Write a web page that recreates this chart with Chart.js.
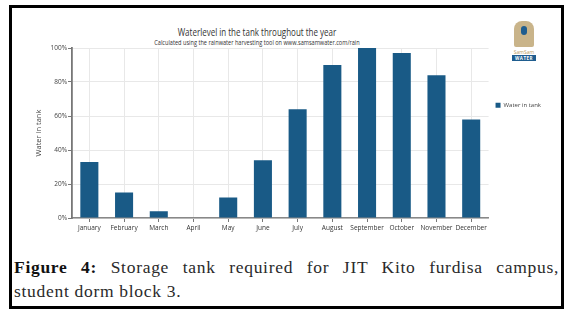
<!DOCTYPE html>
<html>
<head>
<meta charset="utf-8">
<script src="https://cdn.jsdelivr.net/npm/chart.js@4/dist/chart.umd.min.js"></script>
<style>
  body { margin: 0; background: #fff; }
  #frame {
    position: absolute; left: 9px; top: 5px; width: 549px; height: 298px;
    border: 3px solid #000; background: #fff;
  }
  .narrow { font-family: 'Open Sans', sans-serif; }
  #title {
    position: absolute; left: 0; width: 490px; top: 17px; text-align: center;
    font-size: 10px; color: #333; transform: scaleX(0.8);
  }
  #subtitle {
    position: absolute; left: 0; width: 490px; top: 30px; text-align: center;
    font-size: 6.5px; color: #333; transform: scaleX(0.86);
  }
  #logo { position: absolute; left: 500px; top: 13px; width: 24px; text-align: center; }
  #logo .fig { width: 20px; height: 26px; margin: 0 auto; background: #c9b48a; border-radius: 8px 8px 2px 2px; position: relative; }
  #logo .fig span { position: absolute; left: 7px; top: 5px; width: 6px; height: 9px; background: #1f5d8f; border-radius: 3px; }
  #logo .sam { font-size: 5px; color: #b89a62; margin-top: 2px; line-height: 6px; }
  #logo .water { font-size: 4.5px; color: #fff; background: #1f5d8f; font-weight: bold; line-height: 6px; letter-spacing: 0.5px; }
  #chartBox { position: absolute; left: 0px; top: 31px; width: 548px; height: 200px; }
  #caption {
    position: absolute; left: 2px; top: 247px; width: 545px;
    font-family: 'Liberation Serif', serif; font-size: 17.5px; line-height: 24px;
    letter-spacing: 0.7px; color: #2a2a2a;
  }
  #caption .l1 { text-align: justify; text-align-last: justify; }
  #caption b { color: #111; }
</style>
</head>
<body>
<div id="frame">
  <div id="title" class="narrow">Waterlevel in the tank throughout the year</div>
  <div id="subtitle" class="narrow">Calculated using the rainwater harvesting tool on www.samsamwater.com/rain</div>
  <div id="logo" class="narrow">
    <div class="fig"><span></span></div>
    <div class="sam">SamSam</div>
    <div class="water">WATER</div>
  </div>
  <div id="chartBox"><canvas id="tankChart"></canvas></div>
  <div id="caption">
    <div class="l1"><b>Figure 4:</b> Storage tank required for JIT Kito furdisa campus,</div>
    <div>student dorm block 3.</div>
  </div>
</div>
<script>
// Data
const months = ['January', 'February', 'March', 'April', 'May', 'June', 'July', 'August', 'September', 'October', 'November', 'December'];
const waterLevel = [33, 15, 4, 0, 12, 34, 64, 90, 100, 97, 84, 58];
const yTicks = [0, 20, 40, 60, 80, 100];

const barColor = '#195a86';
const fontFamily = "'Open Sans', sans-serif";

const ctx = document.getElementById('tankChart').getContext('2d');
const tankChart = new Chart(ctx, {
  type: 'bar',
  data: {
    labels: months,
    datasets: [
      {
        label: 'Water in tank',
        data: waterLevel,
        backgroundColor: barColor,
        borderWidth: 0,
        categoryPercentage: 1,
        barPercentage: 0.52,
      },
    ],
  },
  options: {
    responsive: true,
    maintainAspectRatio: false,
    animation: false,
    layout: { padding: { top: 9, right: 9, left: 0, bottom: 0 } },
    plugins: {
      title: { display: false },
      tooltip: { enabled: false },
      legend: {
        position: 'right',
        align: 'start',
        title: { display: true, text: ' ', font: { size: 6, family: fontFamily }, padding: { top: 40, bottom: 0 } },
        labels: {
          boxWidth: 5,
          boxHeight: 5,
          padding: 7,
          color: '#444',
          font: { size: 6, family: fontFamily },
        },
      },
    },
    scales: {
      x: {
        grid: { offset: false, color: '#e8e8e8', tickColor: '#777', tickLength: 4 },
        border: { color: '#888', width: 1.5 },
        ticks: { color: '#333', padding: 2, maxRotation: 0, autoSkip: false, font: { size: 6.5, family: fontFamily } },
        afterFit: (scale) => { scale.height = 21; },
      },
      y: {
        min: 0,
        max: 100,
        afterBuildTicks: (scale) => { scale.ticks = yTicks.map((v) => ({ value: v })); },
        grid: { color: '#e8e8e8', tickColor: '#777', tickLength: 4 },
        border: { color: '#777', width: 1.8 },
        ticks: { color: '#444', padding: 1, font: { size: 6.5, family: fontFamily }, callback: (v) => v + '%' },
        title: { display: true, text: 'Water in tank', color: '#444', font: { size: 7.5, family: fontFamily }, padding: { top: 22, bottom: 4 } },
        afterFit: (scale) => { scale.width = 60; },
      },
    },
  },
});
</script>
</body>
</html>
